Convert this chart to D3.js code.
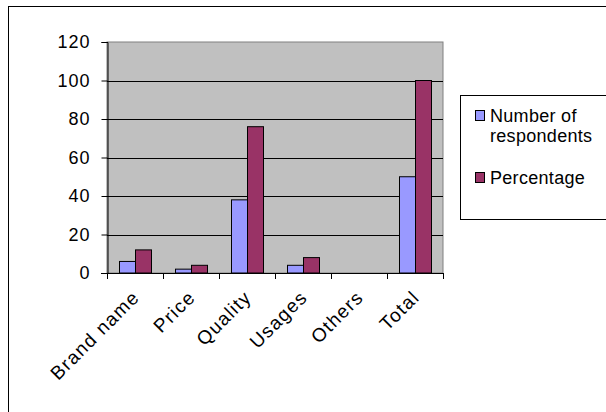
<!DOCTYPE html>
<html>
<head>
<meta charset="utf-8">
<script src="https://cdn.jsdelivr.net/npm/d3@7"></script>
<style>
  html, body { margin: 0; padding: 0; background: #fff; }
  svg { display: block; }
  text { font-family: "Liberation Sans", Arial, sans-serif; fill: #000; }
</style>
</head>
<body>
<script>
// Reasons for choosing a product: respondent counts and their share
const categories = ["Brand name", "Price", "Quality", "Usages", "Others", "Total"];
const respondents = [6, 2, 38, 4, 0, 50];
const percentage = [12, 4, 76, 8, 0, 100];
const seriesNames = ["Number of respondents", "Percentage"];
const seriesColors = ["#9999ff", "#993366"];
const yTicks = [0, 20, 40, 60, 80, 100, 120];

const W = 606, H = 412;
const plot = { left: 107, right: 443, top: 42, bottom: 273 };

const svg = d3.select("body").append("svg")
  .attr("width", W).attr("height", H);

// outer chart frame
svg.append("rect")
  .attr("x", 8.5).attr("y", 6.5)
  .attr("width", W + 10).attr("height", H + 10)
  .attr("fill", "#fff").attr("stroke", "#000").attr("stroke-width", 1);

const x0 = d3.scaleBand().domain(categories)
  .range([plot.left, plot.right]).paddingInner(0).paddingOuter(0);
const x1 = d3.scaleBand().domain([0, 1])
  .range([0, x0.bandwidth()]).paddingOuter(0.75).paddingInner(0);
const y = d3.scaleLinear().domain([0, 120]).range([plot.bottom, plot.top]);

// plot area
svg.append("rect")
  .attr("x", plot.left).attr("y", plot.top)
  .attr("width", plot.right - plot.left).attr("height", plot.bottom - plot.top)
  .attr("fill", "#c0c0c0").attr("stroke", "#808080").attr("stroke-width", 1);

// horizontal gridlines
svg.append("g").selectAll("line")
  .data(yTicks.filter(d => d > 0 && d < 120))
  .join("line")
  .attr("x1", plot.left).attr("x2", plot.right)
  .attr("y1", d => Math.round(y(d)) + 0.5).attr("y2", d => Math.round(y(d)) + 0.5)
  .attr("stroke", "#000").attr("stroke-width", 1);

// bars
const rows = categories.map((c, i) => ({ cat: c, vals: [respondents[i], percentage[i]] }));
const groups = svg.append("g").selectAll("g")
  .data(rows).join("g")
  .attr("transform", d => `translate(${x0(d.cat)},0)`);
groups.selectAll("rect")
  .data(d => d.vals.map((v, k) => ({ v, k })).filter(e => e.v > 0))
  .join("rect")
  .attr("x", e => x1(e.k) + 0.5)
  .attr("y", e => y(e.v))
  .attr("width", x1.bandwidth())
  .attr("height", e => y(0) - y(e.v))
  .attr("fill", e => seriesColors[e.k])
  .attr("stroke", "#000").attr("stroke-width", 1);

// y axis
const yAxis = svg.append("g")
  .attr("transform", `translate(${plot.left + 0.5},0)`)
  .call(d3.axisLeft(y).tickValues(yTicks).tickSize(6).tickPadding(11));
yAxis.select(".domain").attr("stroke", "#000");
yAxis.selectAll(".tick line").attr("stroke", "#000");
yAxis.selectAll(".tick text")
  .style("font-size", "18px").style("font-family", "Liberation Sans, Arial, sans-serif")
  .style("letter-spacing", "1px")
  .attr("fill", "#000");

// x axis baseline and boundary ticks
const xg = svg.append("g");
xg.append("line")
  .attr("x1", plot.left - 6).attr("x2", plot.right)
  .attr("y1", y(0) + 0.5).attr("y2", y(0) + 0.5)
  .attr("stroke", "#000");
const bounds = categories.map(c => x0(c)).concat([x0(categories[categories.length - 1]) + x0.bandwidth()]);
xg.selectAll("line.tk").data(bounds).join("line")
  .attr("class", "tk")
  .attr("x1", d => Math.round(d) + 0.5).attr("x2", d => Math.round(d) + 0.5)
  .attr("y1", y(0)).attr("y2", y(0) + 6)
  .attr("stroke", "#000");

// rotated category labels
xg.selectAll("text").data(categories).join("text")
  .attr("transform", c => `translate(${x0(c) + x0.bandwidth() / 2 - 4},${y(0) + 16}) rotate(-45)`)
  .attr("text-anchor", "end")
  .attr("dy", "0.71em")
  .style("font-size", "19px")
  .style("letter-spacing", "1.3px")
  .text(c => c);

// legend
const lg = svg.append("g");
lg.append("rect")
  .attr("x", 460.5).attr("y", 95.5).attr("width", 160).attr("height", 124)
  .attr("fill", "#fff").attr("stroke", "#000");
const legendItems = [
  { lines: ["Number of", "respondents"], y: 110 },
  { lines: ["Percentage"], y: 172 }
];
legendItems.forEach((it, k) => {
  lg.append("rect")
    .attr("x", 475.5).attr("y", it.y + 0.5).attr("width", 9).attr("height", 10)
    .attr("fill", seriesColors[k]).attr("stroke", "#000");
  it.lines.forEach((t, j) => {
    lg.append("text")
      .attr("x", 490).attr("y", it.y + 12 + j * 20)
      .style("font-size", "18px")
      .style("letter-spacing", "0.3px")
      .text(t);
  });
});
</script>
</body>
</html>
